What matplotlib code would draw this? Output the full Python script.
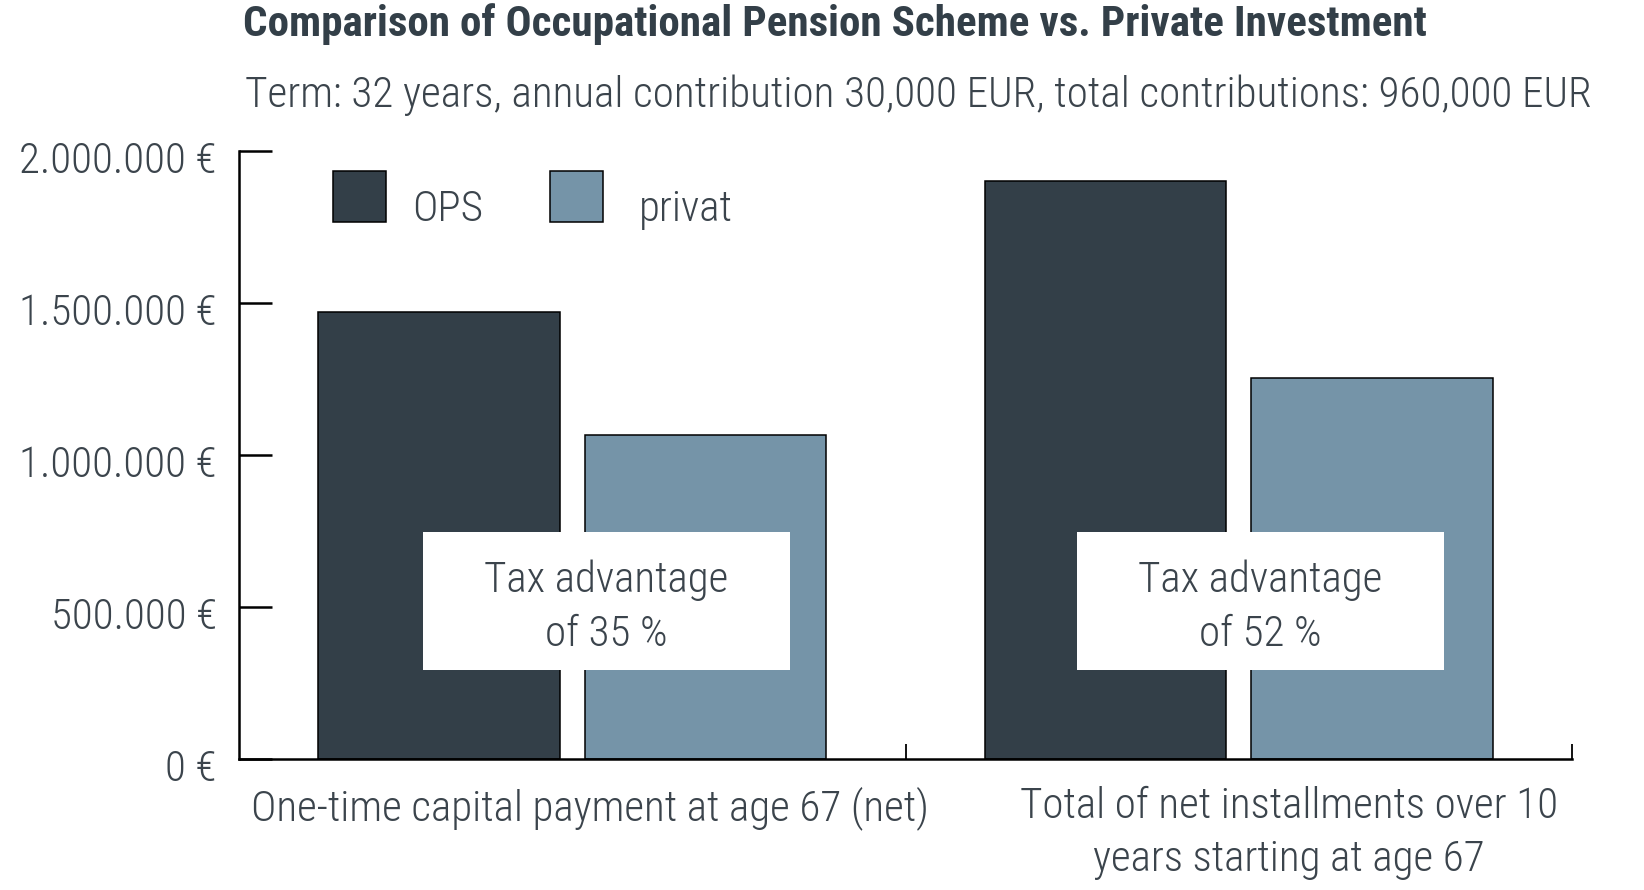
import matplotlib
matplotlib.use("Agg")
import matplotlib.pyplot as plt
import matplotlib.transforms as mtrans
from matplotlib.patches import Rectangle
import numpy as np

# ---- data ----
categories = ["One-time capital payment at age 67 (net)",
              "Total of net installments over 10\nyears starting at age 67"]
series_names = ["OPS", "privat"]
ops_values = [1470000, 1901000]
privat_values = [1066000, 1253000]
advantage_labels = ["Tax advantage\nof 35 %", "Tax advantage\nof 52 %"]
ytick_values = [0, 500000, 1000000, 1500000, 2000000]
ytick_labels = ["0 €", "500.000 €", "1.000.000 €", "1.500.000 €", "2.000.000 €"]
title = "Comparison of Occupational Pension Scheme vs. Private Investment"
subtitle = "Term: 32 years, annual contribution 30,000 EUR, total contributions: 960,000 EUR"

# ---- style ----
C_DARK = "#333f48"
C_LIGHT = "#7594a8"
C_TEXT = "#3b444c"
FAM = ["Roboto Condensed", "Roboto", "DejaVu Sans"]
plt.rcParams["font.family"] = FAM
plt.rcParams["font.weight"] = "light"
FS = 31

fig = plt.figure(figsize=(16.44, 8.90), dpi=100)
ax = fig.add_axes([239/1644, 1-759.3/890, (1572-239)/1644, (759.3-151)/890])

x = np.arange(len(categories)) + 0.5
off = 0.2
w = 0.3625
ax.bar(x - off, ops_values, w, color=C_DARK, edgecolor="black", linewidth=1.1,
       label=series_names[0], zorder=2)
ax.bar(x + off, privat_values, w, color=C_LIGHT, edgecolor="black", linewidth=1.1,
       label=series_names[1], zorder=2)

ax.set_xlim(0, 2)
ax.set_ylim(0, 2000000)

for s in ["top", "right"]:
    ax.spines[s].set_visible(False)
for s in ["left", "bottom"]:
    ax.spines[s].set_linewidth(1.8)
    ax.spines[s].set_color("black")

ax.set_yticks(ytick_values)
ax.set_yticklabels(ytick_labels)
ax.tick_params(axis="y", direction="in", length=24, width=1.8, pad=16,
               labelsize=FS, labelcolor=C_TEXT)
for lab in ax.get_yticklabels():
    lab.set_transform(lab.get_transform() +
                      mtrans.ScaledTranslation(0, -6/100, fig.dpi_scale_trans))

ax.set_xticks(x)
ax.set_xticklabels(categories, linespacing=1.38)
ax.set_xticks([1, 2], minor=True)
ax.tick_params(axis="x", which="major", length=0, pad=19, labelsize=FS,
               labelcolor=C_TEXT)
ax.tick_params(axis="x", which="minor", direction="in", length=10.8, width=1.3)
shifts = [18, 50]
for lab, sh in zip(ax.get_xticklabels(), shifts):
    lab.set_transform(lab.get_transform() +
                      mtrans.ScaledTranslation(sh/100, 0, fig.dpi_scale_trans))

# annotation boxes
box_dx = [0.051, 0.032]
box_w = 0.5505
box_y0, box_y1 = 294000, 748000
for xc, dx, txt in zip(x, box_dx, advantage_labels):
    ax.add_patch(Rectangle((xc + dx - box_w/2, box_y0), box_w, box_y1 - box_y0,
                           facecolor="white", edgecolor="none", zorder=3))
    ax.text(xc + dx, (box_y0 + box_y1)/2 - 22000, txt, ha="center", va="center",
            fontsize=FS, color=C_TEXT, linespacing=1.41, zorder=4)

leg = ax.legend(loc="upper left", bbox_to_anchor=((333-239)/1333, 1-(171-151)/608.3),
                ncol=2, frameon=False, fontsize=FS, handlelength=1.24,
                handleheight=1.43, handletextpad=0.6, columnspacing=1.55,
                borderpad=0, borderaxespad=0)
text_dx = [0, 10]
for t, dxp in zip(leg.get_texts(), text_dx):
    t.set_color(C_TEXT)
    t.set_transform(t.get_transform() +
                    mtrans.ScaledTranslation(dxp/100, -10/100, fig.dpi_scale_trans))

fig.text(243/1644, 1-36/890, title, fontsize=31.1, fontweight="bold",
         color=C_DARK, ha="left", va="baseline")
fig.text(245/1644, 1-106.7/890, subtitle, fontsize=31.1, color=C_TEXT,
         ha="left", va="baseline")

fig.savefig("out.png", dpi=100, facecolor="white")
